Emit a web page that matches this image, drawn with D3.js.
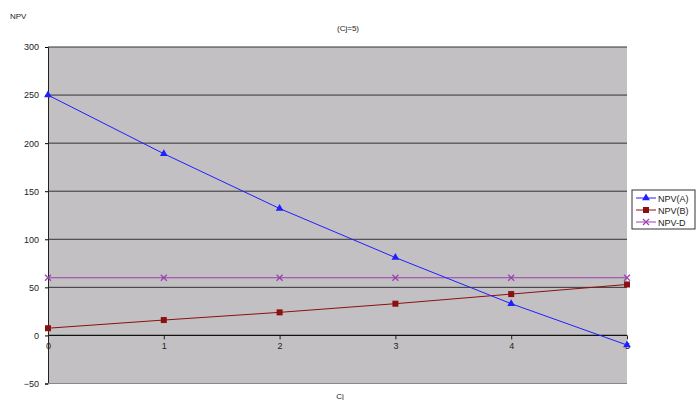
<!DOCTYPE html>
<html>
<head>
<meta charset="utf-8">
<script src="https://cdn.jsdelivr.net/npm/d3@7"></script>
<style>
  body { margin: 0; background: #fff; }
  text { font-family: "Liberation Sans", Arial, sans-serif; fill: #222; }
</style>
</head>
<body>
<svg id="chart" width="700" height="400"></svg>
<script>
const cj = [0, 1, 2, 3, 4, 5];
const npvA = [250, 189, 132, 81, 33, -10];
const npvB = [7.5, 16, 24, 33, 43, 53];
const npvD = [60, 60, 60, 60, 60, 60];
const yTicks = [-50, 0, 50, 100, 150, 200, 250, 300];
const seriesNames = ["NPV(A)", "NPV(B)", "NPV-D"];

const svg = d3.select("#chart");
const plotL = 48, plotR = 627, plotT = 47, plotB = 383.5;

const x = d3.scaleLinear().domain([0, 5]).range([plotL, plotR]);
const y = d3.scaleLinear().domain([-50, 300]).range([plotB, plotT]);

// plot background
svg.append("rect")
  .attr("x", plotL).attr("y", plotT)
  .attr("width", plotR - plotL).attr("height", plotB - plotT)
  .attr("fill", "#c2c0c2");

// horizontal gridlines
svg.selectAll("line.grid")
  .data(yTicks.filter(d => d !== -50))
  .enter().append("line")
  .attr("class", "grid")
  .attr("x1", plotL).attr("x2", plotR)
  .attr("y1", d => y(d)).attr("y2", d => y(d))
  .attr("stroke", d => d === 0 ? "#111" : "#333")
  .attr("stroke-width", d => d === 0 ? 1.2 : 1);

// y axis
const yAxis = svg.append("g")
  .attr("transform", `translate(${plotL},0)`)
  .call(d3.axisLeft(y).tickValues(yTicks).tickSize(3).tickPadding(6));
yAxis.select(".domain").attr("stroke", "#222");
yAxis.selectAll("text").style("font-size", "9px").attr("fill", "#222");

// x axis at y=0
const xAxis = svg.append("g")
  .attr("transform", `translate(0,${y(0)})`)
  .call(d3.axisBottom(x).tickValues(cj).tickFormat(d3.format("d")).tickSize(4).tickPadding(3));
xAxis.select(".domain").remove();
xAxis.selectAll("line").attr("stroke", "#222");
xAxis.selectAll("text").style("font-size", "9px").attr("fill", "#222");

// bottom edge
svg.append("line")
  .attr("x1", plotL).attr("x2", plotR)
  .attr("y1", plotB).attr("y2", plotB)
  .attr("stroke", "#888");

const series = [
  { name: seriesNames[0], values: npvA, color: "#1f1fff", marker: "tri" },
  { name: seriesNames[1], values: npvB, color: "#8b1010", marker: "sq" },
  { name: seriesNames[2], values: npvD, color: "#9a40b0", marker: "x" }
];

const line = d3.line().x((d, i) => x(cj[i])).y(d => y(d));

function drawMarker(g, type, color, cx, cy) {
  if (type === "tri") {
    g.append("path")
      .attr("d", d3.symbol(d3.symbolTriangle, 26)())
      .attr("transform", `translate(${cx},${cy})`)
      .attr("fill", color);
  } else if (type === "sq") {
    g.append("rect")
      .attr("x", cx - 3).attr("y", cy - 3)
      .attr("width", 6).attr("height", 6)
      .attr("fill", color);
  } else {
    g.append("path")
      .attr("d", `M${cx - 3},${cy - 3}L${cx + 3},${cy + 3}M${cx - 3},${cy + 3}L${cx + 3},${cy - 3}`)
      .attr("stroke", color).attr("stroke-width", 1.2);
  }
}

series.slice().reverse().forEach(s => {
  const g = svg.append("g");
  g.append("path")
    .datum(s.values)
    .attr("d", line)
    .attr("fill", "none")
    .attr("stroke", s.color)
    .attr("stroke-width", 1);
  s.values.forEach((v, i) => drawMarker(g, s.marker, s.color, x(cj[i]), y(v)));
});

// legend
const lg = svg.append("g").attr("transform", "translate(632,190)");
lg.append("rect")
  .attr("width", 63).attr("height", 39)
  .attr("fill", "#fff").attr("stroke", "#333");
series.forEach((s, i) => {
  const ly = 8 + i * 12;
  lg.append("line")
    .attr("x1", 4).attr("x2", 24)
    .attr("y1", ly).attr("y2", ly)
    .attr("stroke", s.color);
  drawMarker(lg, s.marker, s.color, 14, ly);
  lg.append("text")
    .attr("x", 26).attr("y", ly + 3.5)
    .style("font-size", "9px")
    .text(s.name);
});

// labels
svg.append("text").attr("x", 10).attr("y", 19).style("font-size", "8px").text("NPV");
svg.append("text").attr("x", 348).attr("y", 31).attr("text-anchor", "middle")
  .style("font-size", "8px").text("(Cj=5)");
svg.append("text").attr("x", 340).attr("y", 399).attr("text-anchor", "middle")
  .style("font-size", "8px").text("Cj");
</script>
</body>
</html>
